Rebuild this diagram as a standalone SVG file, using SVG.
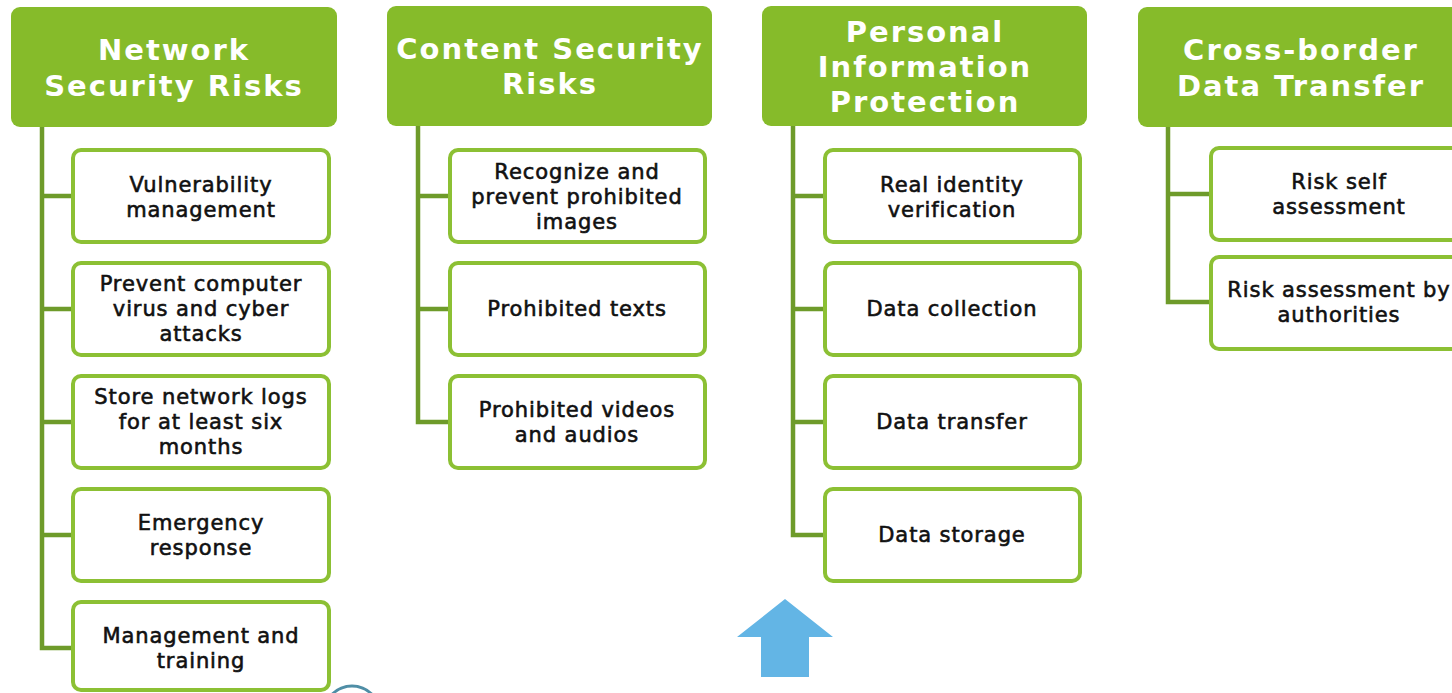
<svg xmlns="http://www.w3.org/2000/svg" width="1452" height="693" viewBox="0 0 1452 693">
<style>
.hd{fill:#86bb2a}
.hdt{fill:#fff;font-family:"DejaVu Sans",Verdana,sans-serif;font-weight:bold;font-size:29px;letter-spacing:2px;text-anchor:middle}
.bx{fill:#fff;stroke:#8cc034;stroke-width:4}
.bt{fill:#111;stroke:#111;stroke-width:0.6;font-family:"DejaVu Sans",Verdana,sans-serif;font-size:21px;letter-spacing:0.9px;text-anchor:middle}
.cn{fill:none;stroke:#6e9b2a;stroke-width:4.5;stroke-linejoin:miter}
</style>
<rect width="1452" height="693" fill="#fff"/>
<g id="connectors">
<path class="cn" d="M42 127V648H73M42 196H73M42 309H73M42 422H73M42 535H73"/>
<path class="cn" d="M418 126V422H450M418 196H450M418 309H450"/>
<path class="cn" d="M793 126V535H825M793 196H825M793 309H825M793 422H825"/>
<path class="cn" d="M1168 127V302H1211M1168 194H1211"/>
</g>
<g id="h1"><rect class="hd" x="11" y="7" width="326" height="120" rx="9"/><text class="hdt" x="174" y="60">Network</text><text class="hdt" x="174" y="96">Security Risks</text></g>
<g id="h2"><rect class="hd" x="387" y="6" width="325" height="120" rx="9"/><text class="hdt" x="550" y="59">Content Security</text><text class="hdt" x="550" y="94">Risks</text></g>
<g id="h3"><rect class="hd" x="762" y="6" width="325" height="120" rx="9"/><text class="hdt" x="925" y="42">Personal</text><text class="hdt" x="925" y="77">Information</text><text class="hdt" x="925" y="112">Protection</text></g>
<g id="h4"><rect class="hd" x="1138" y="7" width="326" height="120" rx="9"/><text class="hdt" x="1301" y="60">Cross-border</text><text class="hdt" x="1301" y="96">Data Transfer</text></g>

<g id="n1a"><rect class="bx" x="73" y="150" width="256" height="92" rx="8"/><text class="bt" x="201" y="192">Vulnerability</text><text class="bt" x="201" y="217">management</text></g>
<g id="n1b"><rect class="bx" x="73" y="263" width="256" height="92" rx="8"/><text class="bt" x="201" y="291">Prevent computer</text><text class="bt" x="201" y="316">virus and cyber</text><text class="bt" x="201" y="341">attacks</text></g>
<g id="n1c"><rect class="bx" x="73" y="376" width="256" height="92" rx="8"/><text class="bt" x="201" y="404">Store network logs</text><text class="bt" x="201" y="429">for at least six</text><text class="bt" x="201" y="454">months</text></g>
<g id="n1d"><rect class="bx" x="73" y="489" width="256" height="92" rx="8"/><text class="bt" x="201" y="530">Emergency</text><text class="bt" x="201" y="555">response</text></g>
<g id="n1e"><rect class="bx" x="73" y="602" width="256" height="88" rx="8"/><text class="bt" x="201" y="643">Management and</text><text class="bt" x="201" y="668">training</text></g>

<g id="n2a"><rect class="bx" x="450" y="150" width="255" height="92" rx="8"/><text class="bt" x="577" y="179">Recognize and</text><text class="bt" x="577" y="204">prevent prohibited</text><text class="bt" x="577" y="229">images</text></g>
<g id="n2b"><rect class="bx" x="450" y="263" width="255" height="92" rx="8"/><text class="bt" x="577" y="316">Prohibited texts</text></g>
<g id="n2c"><rect class="bx" x="450" y="376" width="255" height="92" rx="8"/><text class="bt" x="577" y="417">Prohibited videos</text><text class="bt" x="577" y="442">and audios</text></g>

<g id="n3a"><rect class="bx" x="825" y="150" width="255" height="92" rx="8"/><text class="bt" x="952" y="192">Real identity</text><text class="bt" x="952" y="217">verification</text></g>
<g id="n3b"><rect class="bx" x="825" y="263" width="255" height="92" rx="8"/><text class="bt" x="952" y="316">Data collection</text></g>
<g id="n3c"><rect class="bx" x="825" y="376" width="255" height="92" rx="8"/><text class="bt" x="952" y="429">Data transfer</text></g>
<g id="n3d"><rect class="bx" x="825" y="489" width="255" height="92" rx="8"/><text class="bt" x="952" y="542">Data storage</text></g>

<g id="n4a"><rect class="bx" x="1211" y="148" width="256" height="92" rx="8"/><text class="bt" x="1339" y="189">Risk self</text><text class="bt" x="1339" y="214">assessment</text></g>
<g id="n4b"><rect class="bx" x="1211" y="257" width="256" height="92" rx="8"/><text class="bt" x="1339" y="297">Risk assessment by</text><text class="bt" x="1339" y="322">authorities</text></g>

<g id="arrow"><polygon points="785,599 833,637 809,637 809,677 761,677 761,637 737,637" fill="#63b5e5"/></g>
<g id="arc"><circle cx="352" cy="714" r="28" fill="none" stroke="#4f8ea6" stroke-width="3"/></g>
</svg>
